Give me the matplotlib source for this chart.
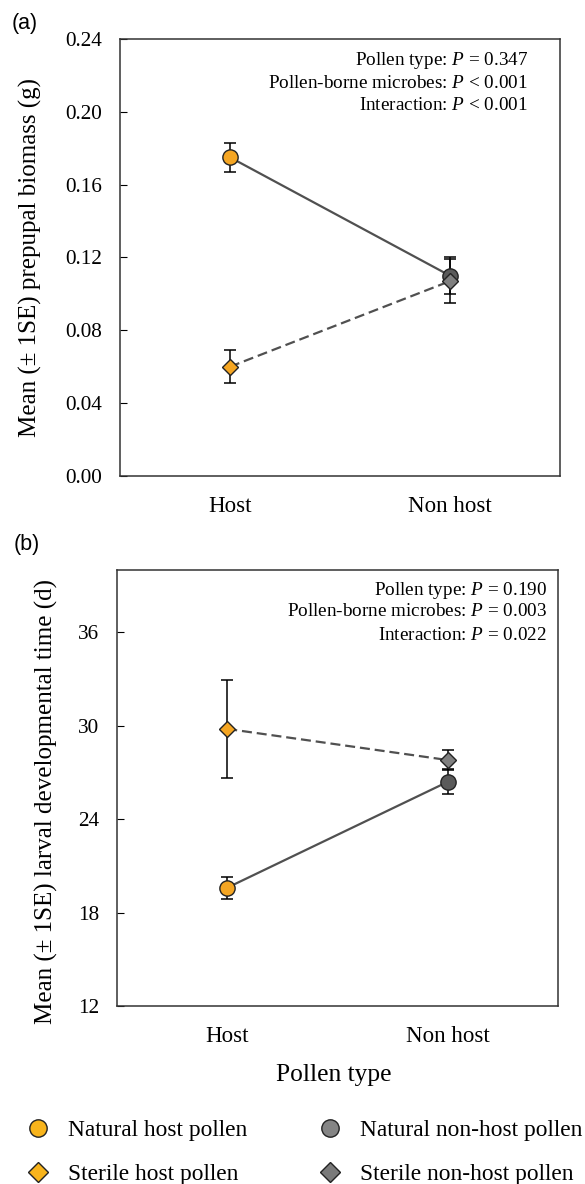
import matplotlib
matplotlib.use('Agg')
import matplotlib.pyplot as plt
from matplotlib.lines import Line2D

plt.rcParams['font.family'] = ['Liberation Serif', 'DejaVu Serif']
plt.rcParams['mathtext.fontset'] = 'custom'
plt.rcParams['mathtext.rm'] = 'Liberation Serif'
plt.rcParams['mathtext.it'] = 'Liberation Serif:italic'

pollen = ['Host', 'Non host']

# (a) prepupal biomass (g)
biomass_natural = [0.175, 0.110]
biomass_natural_se = [0.008, 0.010]
biomass_sterile = [0.060, 0.107]
biomass_sterile_se = [0.009, 0.012]
stats_a = ['Pollen type: $\\it{P}$ = 0.347',
           'Pollen-borne microbes: $\\it{P}$ < 0.001',
           'Interaction: $\\it{P}$ < 0.001']

# (b) larval developmental time (d)
devtime_natural = [19.6, 26.4]
devtime_natural_se = [0.7, 0.8]
devtime_sterile = [29.8, 27.8]
devtime_sterile_se = [3.15, 0.65]
stats_b = ['Pollen type: $\\it{P}$ = 0.190',
           'Pollen-borne microbes: $\\it{P}$ = 0.003',
           'Interaction: $\\it{P}$ = 0.022']

orange = '#F5A623'
dark = '#5A5A5A'
grey = '#808080'
linec = '#505050'

fig = plt.figure(figsize=(5.85, 11.84), dpi=100)
ax1 = fig.add_axes([0.2051, 0.5980, 0.7521, 0.3691])
ax2 = fig.add_axes([0.2000, 0.1503, 0.7538, 0.3682])


def panel(ax, nat, nat_se, ster, ster_se, stats, sx, sy):
    x = [0, 1]
    ax.plot(x, nat, color=linec, lw=1.6, zorder=1)
    ax.plot(x, ster, color=linec, lw=1.6, ls=(0, (4.5, 2.2)), zorder=1)
    ax.errorbar(x, nat, yerr=nat_se, fmt='none', ecolor='black',
                elinewidth=1.1, capsize=4.5, capthick=1.1, zorder=2)
    ax.errorbar(x, ster, yerr=ster_se, fmt='none', ecolor='black',
                elinewidth=1.1, capsize=4.5, capthick=1.1, zorder=2)
    ax.plot(x[0], nat[0], 'o', ms=11, mfc=orange, mec='#222222', mew=1, zorder=3)
    ax.plot(x[1], nat[1], 'o', ms=11, mfc=dark, mec='#222222', mew=1, zorder=3)
    ax.plot(x[0], ster[0], 'D', ms=8, mfc=orange, mec='#222222', mew=1, zorder=4)
    ax.plot(x[1], ster[1], 'D', ms=8, mfc=grey, mec='#222222', mew=1, zorder=4)
    ax.set_xlim(-0.5, 1.5)
    ax.set_xticks(x)
    ax.set_xticklabels(pollen, fontsize=16.6)
    ax.tick_params(axis='x', length=0, pad=14.5)
    ax.tick_params(axis='y', direction='in', length=5, labelsize=15.3, pad=13)
    for s in ax.spines.values():
        s.set_color('#333333')
        s.set_linewidth(1.1)
    for i, t in enumerate(stats):
        ax.text(sx, sy[i], t, transform=ax.transAxes, ha='right', va='center',
                fontsize=13.8)


panel(ax1, biomass_natural, biomass_natural_se, biomass_sterile,
      biomass_sterile_se, stats_a, 0.927, [0.950, 0.899, 0.847])
ax1.set_ylim(0, 0.24)
ax1.set_yticks([0, 0.04, 0.08, 0.12, 0.16, 0.20, 0.24])
ax1.set_yticklabels(['0.00', '0.04', '0.08', '0.12', '0.16', '0.20', '0.24'])
ax1.set_ylabel('Mean (± 1SE) prepupal biomass (g)', fontsize=18)
ax1.yaxis.set_label_coords(-0.177, 0.5)

panel(ax2, devtime_natural, devtime_natural_se, devtime_sterile,
      devtime_sterile_se, stats_b, 0.975, [0.954, 0.904, 0.849])
ax2.set_ylim(12, 40)
ax2.set_yticks([12, 18, 24, 30, 36])
ax2.set_ylabel('Mean (± 1SE) larval developmental time (d)', fontsize=18)
ax2.yaxis.set_label_coords(-0.134, 0.47)
ax2.set_xlabel('Pollen type', fontsize=18.4)
ax2.xaxis.set_label_coords(0.492, -0.132)

fig.text(0.043, 0.980, '(a)', family='Liberation Sans', fontsize=15.5,
         ha='center', va='center')
fig.text(0.045, 0.540, '(b)', family='Liberation Sans', fontsize=15.5,
         ha='center', va='center')

handles = [
    Line2D([], [], ls='none', marker='o', ms=12.5, mfc='#F8B41C', mec='#222222', mew=1),
    Line2D([], [], ls='none', marker='D', ms=10, mfc='#F8B41C', mec='#222222', mew=1),
    Line2D([], [], ls='none', marker='o', ms=12.5, mfc='#858585', mec='#222222', mew=1),
    Line2D([], [], ls='none', marker='D', ms=10, mfc='#7A7A7A', mec='#222222', mew=1),
]
labels = ['Natural host pollen', 'Sterile host pollen',
          'Natural non-host pollen', 'Sterile non-host pollen']
fig.legend(handles, labels, ncol=2, loc='upper left',
           bbox_to_anchor=(0.029, 0.0625), frameon=False, fontsize=16.8,
           handlelength=1, handletextpad=0.78, columnspacing=3.05,
           labelspacing=1.0, borderaxespad=0)

fig.savefig('out.png', dpi=100)
